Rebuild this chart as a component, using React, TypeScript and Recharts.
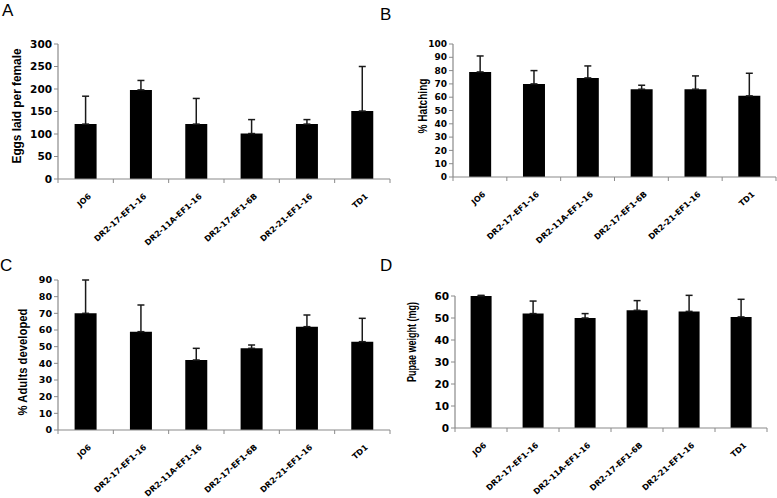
import React from 'react';
import { BarChart, Bar, XAxis, YAxis, ErrorBar } from 'recharts';

// mosquito lines, same order in all four panels
const lines = ['JO6', 'DR2-17-EF1-16', 'DR2-11A-EF1-16', 'DR2-17-EF1-6B', 'DR2-21-EF1-16', 'TD1'];

// A - fecundity
const eggsMean = [122, 198, 122, 101, 122, 151];
const eggsErr = [62, 21, 57, 31, 10, 99];
const eggsTicks = [0, 50, 100, 150, 200, 250, 300];

// B - hatching
const hatchMean = [79, 70, 74.5, 66, 66, 61];
const hatchErr = [12, 10, 9, 3, 10, 17];
const hatchTicks = [0, 10, 20, 30, 40, 50, 60, 70, 80, 90, 100];

// C - adults developed
const adultMean = [70, 59, 42, 49, 62, 53];
const adultErr = [20, 16, 7, 2, 7, 14];
const adultTicks = [0, 10, 20, 30, 40, 50, 60, 70, 80, 90];

// D - pupae weight
const pupaMean = [60, 52, 50, 53.5, 53, 50.5];
const pupaErr = [0.3, 5.7, 2, 4.4, 7.3, 8];
const pupaTicks = [0, 10, 20, 30, 40, 50, 60];

const AXIS = '#8a8a8a';
const TICK_FONT = '"DejaVu Sans", Verdana, sans-serif';
const TITLE_FONT = '"Liberation Sans", Arial, sans-serif';

const toRows = (mean: number[], err: number[]) =>
  lines.map((name, i) => ({ name, value: mean[i], err: [0, err[i]] }));

function CategoryTick(props: any) {
  const { x, y, payload, index, band, fontSize } = props;
  const half = band / 2;
  return (
    <g>
      <line x1={x - half} y1={y} x2={x - half} y2={y + 4} stroke={AXIS} />
      {index === lines.length - 1 && (
        <line x1={x + half} y1={y} x2={x + half} y2={y + 4} stroke={AXIS} />
      )}
      <text
        transform={`translate(${x + 6},${y + 18}) rotate(-42)`}
        textAnchor="end"
        fontFamily={TICK_FONT}
        fontWeight="bold"
        fontSize={fontSize}
        fill="#000"
      >
        {payload.value}
      </text>
    </g>
  );
}

interface PanelProps {
  left: number;
  top: number;
  width: number;
  height: number;
  yWidth: number;
  mTop: number;
  mRight: number;
  xHeight: number;
  mean: number[];
  err: number[];
  ticks: number[];
  yFont: number;
  xFont: number;
}

function Panel(p: PanelProps) {
  const data = toRows(p.mean, p.err);
  const band = (p.width - p.yWidth - p.mRight) / lines.length;
  return (
    <div style={{ position: 'absolute', left: p.left, top: p.top }}>
      <BarChart
        width={p.width}
        height={p.height}
        data={data}
        margin={{ top: p.mTop, right: p.mRight, bottom: 0, left: 0 }}
        barCategoryGap="30%"
        style={{ overflow: 'visible' }}
      >
        <XAxis
          dataKey="name"
          interval={0}
          height={p.xHeight}
          tickLine={false}
          tickSize={0}
          tickMargin={0}
          axisLine={{ stroke: AXIS, strokeWidth: 1.2 }}
          tick={<CategoryTick band={band} fontSize={p.xFont} />}
        />
        <YAxis
          width={p.yWidth}
          domain={[p.ticks[0], p.ticks[p.ticks.length - 1]]}
          ticks={p.ticks}
          interval={0}
          allowDataOverflow
          tickSize={4}
          axisLine={{ stroke: AXIS, strokeWidth: 1.2 }}
          tickLine={{ stroke: AXIS }}
          tick={{ fill: '#000', fontSize: p.yFont, fontWeight: 'bold', fontFamily: TICK_FONT }}
        />
        <Bar dataKey="value" fill="#000" isAnimationActive={false}>
          <ErrorBar dataKey="err" width={3.5} stroke="#1a1a1a" strokeWidth={1.5} isAnimationActive={false} />
        </Bar>
      </BarChart>
    </div>
  );
}

function Titles() {
  // the source figure uses a tall, condensed bold face; squeeze to the measured length
  const title = (text: string, cx: number, cy: number, size: number, len: number) => (
    <text
      transform={`translate(${cx},${cy}) rotate(-90)`}
      textAnchor="middle"
      dominantBaseline="central"
      fontFamily={TITLE_FONT}
      fontWeight="bold"
      fontSize={size}
      textLength={len}
      lengthAdjust="spacingAndGlyphs"
      fill="#000"
    >
      {text}
    </text>
  );
  const letter = (text: string, x: number, y: number) => (
    <text x={x} y={y} fontFamily={TITLE_FONT} fontSize={17} fill="#000">
      {text}
    </text>
  );
  return (
    <svg width={777} height={498} style={{ position: 'absolute', left: 0, top: 0, pointerEvents: 'none' }}>
      {letter('A', 2, 16)}
      {letter('B', 380, 20)}
      {letter('C', 0, 271)}
      {letter('D', 380, 271)}
      {title('Eggs laid per female', 16, 106, 13, 115)}
      {title('% Hatching', 423, 106, 12.5, 55)}
      {title('% Adults developed', 22, 362, 13, 107)}
      {title('Pupae weight (mg)', 412, 342, 12.5, 80)}
    </svg>
  );
}

export default function App() {
  return (
    <div style={{ position: 'absolute', left: 0, top: 0, width: 777, height: 498, background: '#fff', overflow: 'hidden' }}>
      <Panel left={0} top={0} width={392} height={250} yWidth={58} mTop={44} mRight={2} xHeight={71}
        mean={eggsMean} err={eggsErr} ticks={eggsTicks} yFont={10.5} xFont={8} />
      <Panel left={390} top={0} width={387} height={250} yWidth={63} mTop={44} mRight={1} xHeight={73}
        mean={hatchMean} err={hatchErr} ticks={hatchTicks} yFont={9} xFont={8} />
      <Panel left={0} top={250} width={392} height={248} yWidth={58} mTop={30} mRight={2} xHeight={68}
        mean={adultMean} err={adultErr} ticks={adultTicks} yFont={9.5} xFont={8} />
      <Panel left={390} top={250} width={387} height={248} yWidth={65} mTop={46} mRight={10} xHeight={70}
        mean={pupaMean} err={pupaErr} ticks={pupaTicks} yFont={10.5} xFont={8} />
      <Titles />
    </div>
  );
}
